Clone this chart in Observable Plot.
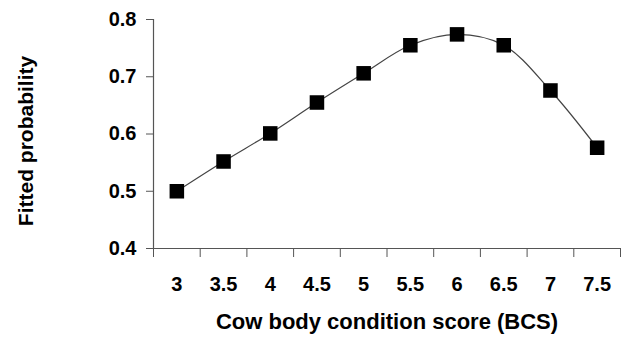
<!DOCTYPE html>
<html>
<head>
<meta charset="utf-8">
<script src="https://cdn.jsdelivr.net/npm/d3@7"></script>
<script src="https://cdn.jsdelivr.net/npm/@observablehq/plot@0.6"></script>
<style>
  html, body { margin: 0; padding: 0; background: #fff; }
</style>
</head>
<body>
<div id="chart"></div>
<script>
const bcs = [3, 3.5, 4, 4.5, 5, 5.5, 6, 6.5, 7, 7.5];
const prob = [0.500, 0.552, 0.601, 0.655, 0.706, 0.755, 0.774, 0.755, 0.676, 0.576];
const yTicks = [0.4, 0.5, 0.6, 0.7, 0.8];
const xTickLabels = ["3", "3.5", "4", "4.5", "5", "5.5", "6", "6.5", "7", "7.5"];
const xTitle = "Cow body condition score (BCS)";
const yTitle = "Fitted probability";

const data = bcs.map((b, i) => ({bcs: b, p: prob[i]}));
const bounds = bcs.map(b => b - 0.25).concat([bcs[bcs.length - 1] + 0.25]);
const axisColor = "#555";

const chart = Plot.plot({
  width: 630,
  height: 337,
  marginLeft: 153,
  marginRight: 10,
  marginTop: 19,
  marginBottom: 89,
  x: {domain: [bounds[0], bounds[bounds.length - 1]], axis: null},
  y: {domain: [0.4, 0.8], axis: null},
  style: {
    fontFamily: "'Liberation Sans', Arial, sans-serif",
    fontWeight: "bold",
    fontSize: "20px",
    color: "#000",
    background: "#fff",
    overflow: "visible"
  },
  marks: [
    Plot.ruleY([0.4], {stroke: axisColor, strokeWidth: 1.2}),
    Plot.ruleX([bounds[0]], {stroke: axisColor, strokeWidth: 1.2}),
    Plot.axisY({ticks: yTicks, tickSize: 7, tickPadding: 10, stroke: axisColor,
      tickFormat: d3.format(".1f"), label: null, fontSize: 20}),
    Plot.axisX({ticks: bounds, tickSize: 9, stroke: axisColor, tickFormat: () => "", label: null}),
    Plot.axisX({ticks: bcs, tickSize: 0, tickPadding: 28,
      tickFormat: (d) => xTickLabels[bcs.indexOf(d)], label: null, fontSize: 20}),
    Plot.line(data, {x: "bcs", y: "p", curve: "catmull-rom", stroke: "#444", strokeWidth: 1.2}),
    Plot.dot(data, {x: "bcs", y: "p", symbol: "square", r: 8.2, fill: "#000", stroke: "none"}),
    Plot.text([xTitle], {frameAnchor: "bottom", lineAnchor: "top", dy: 65, fontSize: 22, fontWeight: "bold", fill: "#000"}),
    Plot.text([yTitle], {frameAnchor: "left", textAnchor: "middle", rotate: -90, lineAnchor: "middle", dx: -127, dy: 7, fontSize: 21, fontWeight: "bold", fill: "#000"})
  ]
});
document.getElementById("chart").appendChild(chart);
</script>
</body>
</html>
